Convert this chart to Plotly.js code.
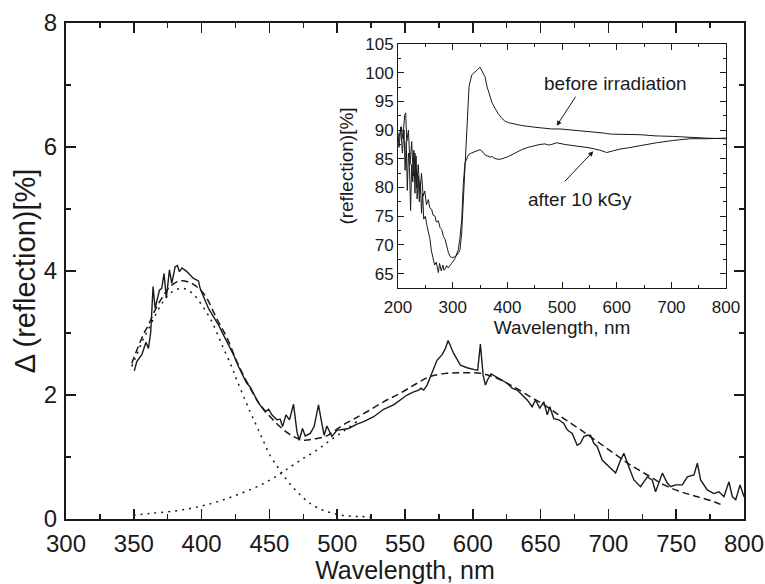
<!DOCTYPE html>
<html>
<head>
<meta charset="utf-8">
<script src="https://cdn.plot.ly/plotly-3.0.1.min.js"></script>
<style>html,body{margin:0;padding:0;background:#fff;}#chart{width:765px;height:584px;}</style>
</head>
<body>
<div id="chart"></div>
<script>
// ---- Main plot: measured Δ(reflection) spectrum ----
const measX = [350.4,352.2,355.9,359.0,360.8,362.5,364.2,365.7,368.9,370.6,372.3,374.0,376.3,378.0,380.5,382.2,383.6,385.6,389.1,394.0,397.7,398.9,401.4,405.0,408.8,412.5,416.1,419.8,423.5,427.2,430.9,433.0,435.8,442.0,446.9,449.4,451.8,455.5,458.0,459.7,462.2,464.8,467.8,470.3,472.0,474.4,476.4,480.1,483.0,486.2,488.7,490.4,492.4,496.1,499.8,504.7,508.4,514.6,519.5,526.9,534.2,541.6,546.6,551.5,556.4,560.1,561.8,563.8,566.3,570.0,573.6,577.4,579.8,581.8,585.9,590.9,595.8,601.2,603.6,605.6,607.6,609.3,611.0,613.5,616.7,620.4,625.3,629.0,632.7,636.4,640.1,643.8,646.2,649.4,652.4,654.9,656.8,659.7,663.4,667.1,669.6,673.3,677.0,679.4,681.9,684.4,686.8,689.3,691.7,695.4,700.3,705.3,709.0,711.4,715.1,718.8,723.7,728.7,732.3,734.8,739.8,743.4,745.9,749.6,754.5,758.2,763.1,765.6,768.0,772.9,777.8,781.5,785.2,788.9,791.4,793.9,797.1,800.0];
const measY = [2.39,2.54,2.65,2.85,2.75,3.02,3.75,3.40,3.69,3.72,3.96,3.56,4.02,3.80,4.07,4.09,3.99,4.05,3.99,3.88,3.84,3.72,3.59,3.40,3.26,3.13,2.97,2.81,2.65,2.46,2.30,2.20,2.13,1.87,1.73,1.77,1.68,1.60,1.61,1.49,1.68,1.60,1.85,1.41,1.27,1.46,1.34,1.38,1.49,1.84,1.54,1.35,1.50,1.33,1.43,1.45,1.46,1.53,1.57,1.65,1.77,1.84,1.92,2.00,2.05,2.08,2.11,2.08,2.16,2.35,2.56,2.65,2.75,2.88,2.67,2.48,2.44,2.41,2.40,2.82,2.32,2.16,2.25,2.34,2.30,2.24,2.19,2.11,2.08,2.00,1.92,1.81,1.92,1.79,1.89,1.68,1.81,1.62,1.60,1.54,1.44,1.38,1.19,1.22,1.33,1.35,1.35,1.22,1.17,0.95,0.84,0.74,0.95,1.06,0.84,0.63,0.52,0.68,0.63,0.44,0.74,0.58,0.52,0.55,0.55,0.68,0.71,0.90,0.63,0.47,0.41,0.44,0.36,0.60,0.36,0.31,0.55,0.36];

// total fit (dashed)
const fitX = [348.5,350.9,354.6,357.6,360.8,365.7,370.6,376.8,384.2,392.7,400.2,403.9,411.2,418.6,426.0,432.5,442.0,451.8,460.4,467.8,475.2,482.6,491.2,497.3,504.7,512.1,521.9,534.2,546.6,558.9,568.7,581.0,593.3,605.6,617.9,630.2,642.5,654.8,667.1,679.4,691.7,704.0,716.3,728.7,741.0,753.3,765.6,777.9,785.2];
const fitY = [2.51,2.65,2.85,3.00,3.13,3.37,3.56,3.75,3.84,3.80,3.67,3.56,3.23,2.93,2.54,2.25,1.88,1.62,1.44,1.33,1.27,1.29,1.33,1.41,1.52,1.61,1.73,1.89,2.03,2.19,2.30,2.35,2.36,2.35,2.27,2.13,1.97,1.81,1.62,1.44,1.25,1.06,0.87,0.71,0.55,0.44,0.36,0.28,0.21];

// first fitted component (dotted)
const comp1X = [348.5,350.9,354.6,357.6,360.8,365.7,370.6,376.8,385.4,392.7,400.2,407.6,415.0,422.3,426.0,435.8,440.8,445.7,450.6,455.5,459.2,465.4,472.7,480.1,488.8,497.3,507.2,517.0,526.9];
const comp1Y = [2.46,2.58,2.78,2.93,3.06,3.28,3.47,3.64,3.72,3.65,3.45,3.18,2.81,2.45,2.24,1.73,1.49,1.25,1.02,0.86,0.74,0.56,0.39,0.25,0.15,0.09,0.05,0.04,0.03];

// second fitted component (dotted)
const comp2X = [349.7,362.0,376.8,391.5,403.9,416.1,428.5,440.8,453.0,465.4,475.2,485.0,494.9,505.0,515.0];
const comp2Y = [0.06,0.09,0.12,0.17,0.23,0.31,0.41,0.52,0.66,0.84,0.98,1.11,1.27,1.42,1.58];

// ---- Inset: reflection spectra ----
const beforeX = [200,203,206,209,212,214,216,219,222,225,228,231,234,237,240,243,246,249,252,255.5,258,261.6,264,267.7,270,273.8,277,279.9,283,286,289,292.1,295,298.2,303,307.4,311,313.4,316.5,319.5,322.6,325.7,329.9,334.8,340,345,350,354,359.1,363,368.3,372,377.4,383,389.6,395,401.8,415,426.3,450.6,481.1,496.3,520,551.2,575,581.7,590,642.7,670,703.6,735,764.6,798.1,800];
const beforeY = [88.0,89.5,90.6,88.5,92.5,93.0,88.0,90.0,84.0,88.0,82.0,86.0,80.0,84.0,79.0,82.5,78.5,79.4,77.0,77.9,76.5,76.2,75.2,75.0,74.0,74.2,73.0,72.7,71.5,71.0,69.8,68.7,68.0,67.8,67.9,68.2,68.7,69.2,72.1,77.9,85.4,91.2,97.6,99.6,100.0,100.5,100.95,100.3,99.3,97.5,95.9,94.8,93.8,92.9,92.1,91.6,91.3,91.0,90.8,90.5,90.2,90.2,90.0,89.8,89.5,89.4,89.3,89.2,89.0,88.9,88.7,88.6,88.5,88.5];

const afterX = [200,202,205,208,211,213,215,217,219,221,223,225,227,229,231,233,235,237,239,241,243,245,247,250,252.4,255,258.5,261,264.6,267,270,272,273.8,276,279,282,284,286,289,292,295,298,301.2,305,310.3,313,316.5,319.5,322.6,325,328.7,334,341,345,350,353,356.1,360,364,368.3,372,376,383.5,390,401.8,413,426.3,438,450.6,459.7,468.9,475,481,490.3,505,520.7,535,551.2,569.5,581.7,594,606,620,642.7,673.1,703.6,734.1,765,798.1,800];
const afterY = [89.5,87.0,90.5,86.0,90.0,83.0,88.0,79.5,86.0,83.5,76.0,84.0,81.0,86.5,79.0,85.5,78.0,82.0,77.5,81.0,75.5,79.0,74.5,75.0,73.6,72.5,71.0,69.0,67.5,66.5,67.0,65.8,65.2,66.8,65.5,66.5,65.6,65.8,66.4,66.0,66.5,66.8,67.2,67.8,69.2,71.0,74.4,80.8,84.3,85.0,85.7,86.0,86.3,86.5,86.6,86.4,86.0,85.6,85.5,85.3,85.4,85.1,84.9,85.0,85.4,86.0,86.6,87.0,87.3,87.5,87.6,87.4,87.5,87.8,87.5,87.3,87.1,86.9,86.5,86.1,86.4,86.7,86.9,87.3,87.8,88.2,88.5,88.5,88.6,88.6];

const mainTickVals = [300,350,400,450,500,550,600,650,700,750,800];
const insetTickVals = [200,300,400,500,600,700,800];

const ink = '#1a1a1a';
const narrow = '"Liberation Sans Narrow", "Arial Narrow", Arial, sans-serif';
const sans = '"Liberation Sans", Arial, Helvetica, sans-serif';

const traces = [
  {x: measX, y: measY, type: 'scatter', mode: 'lines', line: {color: ink, width: 1.4}, hoverinfo: 'skip'},
  {x: fitX, y: fitY, type: 'scatter', mode: 'lines', line: {color: ink, width: 1.5, dash: '7px,4px', shape: 'spline'}, hoverinfo: 'skip'},
  {x: comp1X, y: comp1Y, type: 'scatter', mode: 'lines', line: {color: ink, width: 1.5, dash: '2px,5px', shape: 'spline'}, hoverinfo: 'skip'},
  {x: comp2X, y: comp2Y, type: 'scatter', mode: 'lines', line: {color: ink, width: 1.5, dash: '2px,5px', shape: 'spline'}, hoverinfo: 'skip'},
  {x: beforeX, y: beforeY, type: 'scatter', mode: 'lines', xaxis: 'x2', yaxis: 'y2', line: {color: ink, width: 1}, hoverinfo: 'skip'},
  {x: afterX, y: afterY, type: 'scatter', mode: 'lines', xaxis: 'x2', yaxis: 'y2', line: {color: ink, width: 1}, hoverinfo: 'skip'}
];

const mainAxis = {
  showline: true, linewidth: 2, linecolor: ink, mirror: 'allticks',
  ticks: 'inside', ticklen: 10, tickwidth: 1.5, tickcolor: ink,
  showgrid: false, zeroline: false, ticklabeloverflow: 'allow',
  tickfont: {family: narrow, size: 24, color: ink}
};
const insetAxis = {
  showline: true, linewidth: 1, linecolor: ink, mirror: 'allticks',
  ticks: 'inside', ticklen: 6, tickwidth: 1, tickcolor: ink,
  showgrid: false, zeroline: false, ticklabeloverflow: 'allow',
  tickfont: {family: sans, size: 17, color: ink}
};

const layout = {
  width: 765, height: 584,
  margin: {l: 66, r: 21, t: 23, b: 65},
  paper_bgcolor: '#fff', plot_bgcolor: '#fff',
  showlegend: false,
  xaxis: Object.assign({}, mainAxis, {
    range: [300, 800], tickvals: mainTickVals, ticklabelstandoff: 2,
    minor: {dtick: 25, tick0: 300, ticks: 'inside', ticklen: 5, tickwidth: 1.5, tickcolor: ink},
    title: {text: 'Wavelength, nm', font: {family: sans, size: 25, color: ink}, standoff: 5}
  }),
  yaxis: Object.assign({}, mainAxis, {
    range: [0, 8], dtick: 2, tick0: 0, ticklabelstandoff: 2,
    minor: {dtick: 1, tick0: 0, ticks: 'inside', ticklen: 5, tickwidth: 1.5, tickcolor: ink},
    title: {text: 'Δ (reflection)[%]', font: {family: sans, size: 29, color: ink}, standoff: 0}
  }),
  xaxis2: Object.assign({}, insetAxis, {
    domain: [0.4897, 0.9735], anchor: 'y2',
    range: [200, 800], tickvals: insetTickVals, ticklabelstandoff: 4,
    minor: {dtick: 50, tick0: 200, ticks: 'inside', ticklen: 3, tickwidth: 1, tickcolor: ink},
    title: {text: 'Wavelength, nm', font: {family: sans, size: 19, color: ink}, standoff: 0}
  }),
  yaxis2: Object.assign({}, insetAxis, {
    domain: [0.4657, 0.9577], anchor: 'x2',
    range: [62.5, 105], dtick: 5, tick0: 65,
    minor: {dtick: 2.5, tick0: 65, ticks: 'inside', ticklen: 3, tickwidth: 1, tickcolor: ink},
    title: {text: '(reflection)[%]', font: {family: sans, size: 19, color: ink}, standoff: 6}
  }),
  annotations: [
    {xref: 'x2', yref: 'y2', x: 490.3, y: 90.76, axref: 'x2', ayref: 'y2', ax: 526.8, ay: 96.1,
     showarrow: true, arrowhead: 2, arrowsize: 1, arrowwidth: 1, arrowcolor: ink, text: ''},
    {xref: 'x2', yref: 'y2', x: 557.2, y: 86.3, axref: 'x2', ayref: 'y2', ax: 502.4, ay: 80.8,
     showarrow: true, arrowhead: 2, arrowsize: 1, arrowwidth: 1, arrowcolor: ink, text: ''},
    {xref: 'x2', yref: 'y2', x: 597, y: 98.2, text: 'before irradiation', showarrow: false,
     font: {family: sans, size: 19, color: ink}},
    {xref: 'x2', yref: 'y2', x: 533, y: 77.9, text: 'after 10 kGy', showarrow: false,
     font: {family: sans, size: 19, color: ink}}
  ]
};

Plotly.newPlot('chart', traces, layout, {staticPlot: true, displayModeBar: false});
</script>
</body>
</html>
